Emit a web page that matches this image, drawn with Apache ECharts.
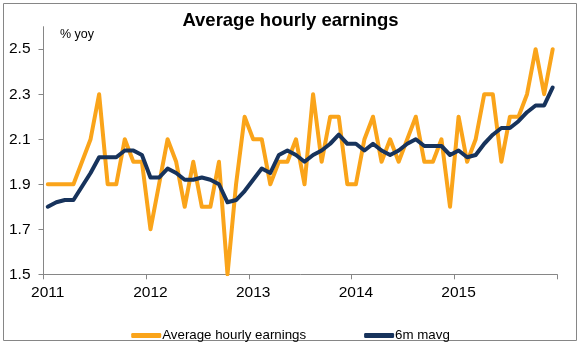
<!DOCTYPE html>
<html>
<head>
<meta charset="utf-8">
<script src="https://cdn.jsdelivr.net/npm/echarts@6/dist/echarts.min.js"></script>
<style>
html,body{margin:0;padding:0;background:#fff;}
#c{width:581px;height:346px;}
</style>
</head>
<body>
<div id="c"></div>
<script>
// Monthly categories Jan 2011 .. Dec 2015
var years = ['2011', '2012', '2013', '2014', '2015'];
var months = [];
years.forEach(function (y) {
  for (var m = 1; m <= 12; m++) months.push(y + '-' + (m < 10 ? '0' + m : m));
});

var earnings = [
  1.9, 1.9, 1.9, 1.9, 2.0, 2.1, 2.3, 1.9, 1.9, 2.1, 2.0, 2.0,
  1.7, 1.9, 2.1, 2.0, 1.8, 2.0, 1.8, 1.8, 2.0, 1.5, 1.9, 2.2,
  2.1, 2.1, 1.9, 2.0, 2.0, 2.1, 1.9, 2.3, 2.0, 2.2, 2.2, 1.9,
  1.9, 2.1, 2.2, 2.0, 2.1, 2.0, 2.1, 2.2, 2.0, 2.0, 2.1, 1.8,
  2.2, 2.0, 2.1, 2.3, 2.3, 2.0, 2.2, 2.2, 2.3, 2.5, 2.3, 2.5
];

var mavg6 = [
  1.80, 1.82, 1.83, 1.83, 1.89, 1.95, 2.02, 2.02, 2.02, 2.05, 2.05, 2.03,
  1.93, 1.93, 1.97, 1.95, 1.92, 1.92, 1.93, 1.92, 1.90, 1.82, 1.83, 1.87,
  1.92, 1.97, 1.95, 2.03, 2.05, 2.03, 2.00, 2.03, 2.05, 2.08, 2.12, 2.08,
  2.08, 2.05, 2.08, 2.05, 2.03, 2.05, 2.08, 2.10, 2.07, 2.07, 2.07, 2.03,
  2.05, 2.02, 2.03, 2.08, 2.12, 2.15, 2.15, 2.18, 2.22, 2.25, 2.25, 2.33
];

var yTicks = [1.5, 1.7, 1.9, 2.1, 2.3, 2.5];

var FONT = '"Liberation Sans", Arial, sans-serif';
var chart = echarts.init(document.getElementById('c'), null, {renderer: 'canvas'});
chart.setOption({
  animation: false,
  backgroundColor: '#ffffff',
  title: {
    text: 'Average hourly earnings',
    left: 'center',
    top: 6,
    textStyle: {fontFamily: FONT, fontSize: 18.5, fontWeight: 'bold', color: '#000'}
  },
  graphic: [
    {type: 'rect', shape: {x: 3.5, y: 3.5, width: 573, height: 337}, style: {fill: 'none', stroke: '#868686', lineWidth: 1}, silent: true},
    {type: 'text', left: 60, top: 28, style: {text: '% yoy', fontFamily: FONT, fontSize: 12.5, fill: '#000'}}
  ],
  legend: {
    left: 'center',
    top: 324,
    itemWidth: 30,
    itemHeight: 5,
    itemGap: 58,
    icon: 'roundRect',
    textStyle: {fontFamily: FONT, fontSize: 13.3, color: '#000', padding: [0, 0, 0, -4]},
    data: ['Average hourly earnings', '6m mavg']
  },
  grid: {left: 43.5, right: 24, top: 26.7, bottom: 71.7, containLabel: false},
  xAxis: {
    type: 'category',
    data: months,
    boundaryGap: true,
    axisLine: {lineStyle: {color: '#868686', width: 1}},
    axisTick: {show: true, interval: 11, length: 5, lineStyle: {color: '#868686'}},
    axisLabel: {
      interval: 11, margin: 10, color: '#000', fontFamily: FONT, fontSize: 15.5,
      formatter: function (v) { return v.slice(0, 4); }
    },
    splitLine: {show: false}
  },
  yAxis: {
    type: 'value',
    min: 1.5,
    max: 2.6,
    axisLine: {show: true, lineStyle: {color: '#868686', width: 1}},
    axisTick: {show: true, length: 5, customValues: yTicks, lineStyle: {color: '#868686'}},
    axisLabel: {
      customValues: yTicks, margin: 13, color: '#000', fontFamily: FONT, fontSize: 15.5,
      formatter: function (v) { return v.toFixed(1); }
    },
    splitLine: {show: false}
  },
  series: [
    {
      name: 'Average hourly earnings',
      type: 'line',
      data: earnings,
      symbol: 'none',
      color: '#FAA41A',
      lineStyle: {width: 4, color: '#FAA41A', join: 'round', cap: 'round'},
      z: 2
    },
    {
      name: '6m mavg',
      type: 'line',
      data: mavg6,
      symbol: 'none',
      color: '#17335C',
      lineStyle: {width: 4, color: '#17335C', join: 'round', cap: 'round'},
      z: 3
    }
  ]
});
</script>
</body>
</html>
